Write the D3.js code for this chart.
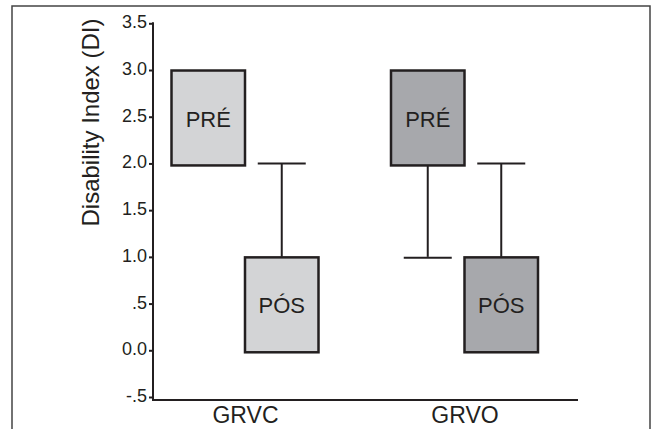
<!DOCTYPE html>
<html>
<head>
<meta charset="utf-8">
<script src="https://cdn.jsdelivr.net/npm/d3@7/dist/d3.min.js"></script>
<style>
  html, body { margin: 0; padding: 0; background: #fff; }
  svg { display: block; }
  text { font-family: "Liberation Sans", Arial, Helvetica, sans-serif; fill: #231f20; }
</style>
</head>
<body>
<svg id="chart" width="653" height="429"></svg>
<script>
// ---- data ----
const groups = ["GRVC", "GRVO"];
const phases = ["PRÉ", "PÓS"];
const boxGroup   = ["GRVC", "GRVC", "GRVO", "GRVO"];
const boxPhase   = ["PRÉ", "PÓS", "PRÉ", "PÓS"];
const boxLow     = [2.0, 0.0, 2.0, 0.0];   // lower edge of box
const boxHigh    = [3.0, 1.0, 3.0, 1.0];   // upper edge of box
const whiskerMin = [2.0, 0.0, 1.0, 0.0];
const whiskerMax = [3.0, 2.0, 3.0, 2.0];
const yTicks = [-0.5, 0.0, 0.5, 1.0, 1.5, 2.0, 2.5, 3.0, 3.5];
const yTickLabels = ["-.5", "0.0", ".5", "1.0", "1.5", "2.0", "2.5", "3.0", "3.5"];
const groupFill = { "GRVC": "#d3d4d6", "GRVO": "#a7a8ac" };

const svg = d3.select("#chart");
const ink = "#231f20";

// frame
svg.append("path")
  .attr("d", "M12,432V6H650V432")
  .attr("fill", "none")
  .attr("stroke", "#444")
  .attr("stroke-width", 1.5);

// scales
const y = d3.scaleLinear().domain([-0.5, 3.5]).range([397, 23.3]);
const x = d3.scalePoint().domain(groups).range([245, 464.5]);
const sub = d3.scaleBand().domain(phases).range([-73.5, 73.5]);

// y axis
const yAxis = d3.axisLeft(y)
  .tickValues(yTicks)
  .tickFormat((d, i) => yTickLabels[i])
  .tickSize(4)
  .tickPadding(2);
const gy = svg.append("g").attr("transform", "translate(153,0)").call(yAxis);
gy.select(".domain").remove();
gy.selectAll(".tick line").attr("stroke", ink).attr("stroke-width", 2);
gy.selectAll(".tick text")
  .style("font-size", "18px")
  .attr("fill", ink)
  .attr("dy", "0.25em");

// axis lines
svg.append("line").attr("x1", 153).attr("x2", 153).attr("y1", y(3.5) - 1).attr("y2", 401)
  .attr("stroke", ink).attr("stroke-width", 2);
svg.append("line").attr("x1", 152).attr("x2", 578).attr("y1", 400).attr("y2", 400)
  .attr("stroke", ink).attr("stroke-width", 2);

// x axis labels (via axis)
const xAxis = d3.axisBottom(x).tickSize(0).tickPadding(0);
const gx = svg.append("g").attr("transform", "translate(0,400)").call(xAxis);
gx.select(".domain").remove();
gx.selectAll(".tick text")
  .style("font-size", "23px")
  .attr("fill", ink)
  .attr("y", 22.5)
  .attr("dy", 0);

// y title
svg.append("text")
  .attr("transform", "translate(99,122.5) rotate(-90)")
  .attr("text-anchor", "middle")
  .style("font-size", "24px")
  .text("Disability Index (DI)");

// boxes
const idx = d3.range(boxGroup.length);
const cx = i => x(boxGroup[i]) + sub(boxPhase[i]) + sub.bandwidth() / 2;
const capHalf = 24;

// whiskers
idx.forEach(i => {
  const c = cx(i);
  if (whiskerMax[i] > boxHigh[i]) {
    svg.append("line").attr("x1", c).attr("x2", c)
      .attr("y1", y(whiskerMax[i])).attr("y2", y(boxHigh[i]))
      .attr("stroke", ink).attr("stroke-width", 2);
    svg.append("line").attr("x1", c - capHalf).attr("x2", c + capHalf)
      .attr("y1", y(whiskerMax[i])).attr("y2", y(whiskerMax[i]))
      .attr("stroke", ink).attr("stroke-width", 2);
  }
  if (whiskerMin[i] < boxLow[i]) {
    svg.append("line").attr("x1", c).attr("x2", c)
      .attr("y1", y(boxLow[i])).attr("y2", y(whiskerMin[i]))
      .attr("stroke", ink).attr("stroke-width", 2);
    svg.append("line").attr("x1", c - capHalf).attr("x2", c + capHalf)
      .attr("y1", y(whiskerMin[i]) + 1).attr("y2", y(whiskerMin[i]) + 1)
      .attr("stroke", ink).attr("stroke-width", 2);
  }
});

svg.selectAll("rect.box").data(idx).join("rect")
  .attr("class", "box")
  .attr("x", i => x(boxGroup[i]) + sub(boxPhase[i]))
  .attr("width", sub.bandwidth())
  .attr("y", i => y(boxHigh[i]) + 0.5)
  .attr("height", i => y(boxLow[i]) - y(boxHigh[i]) + 1.5)
  .attr("fill", i => groupFill[boxGroup[i]])
  .attr("stroke", ink)
  .attr("stroke-width", 2.5);

svg.selectAll("text.boxlabel").data(idx).join("text")
  .attr("class", "boxlabel")
  .attr("x", i => cx(i))
  .attr("y", i => y((boxLow[i] + boxHigh[i]) / 2))
  .attr("dy", "0.45em")
  .attr("text-anchor", "middle")
  .style("font-size", "22px")
  .text(i => boxPhase[i]);
</script>
</body>
</html>
